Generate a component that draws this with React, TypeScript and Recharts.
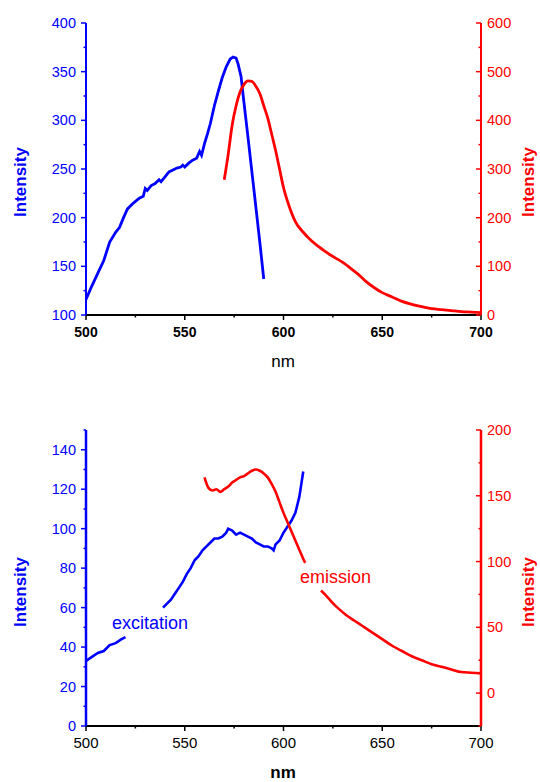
import React from 'react';
import { LineChart, Line, XAxis, YAxis } from 'recharts';

const BLUE = '#0000ff';
const RED = '#ff0000';
const FONT = '"Liberation Sans", Arial, Helvetica, sans-serif';

// upper panel: excitation (left axis) and emission (right axis)
const topExNm = [500, 503, 506, 509, 512, 515, 517, 519, 521, 524, 527, 529, 530, 531, 533, 535, 537, 538, 540, 542, 544, 546, 548, 549, 550, 552, 554, 556, 557.5, 558.5, 560, 561.5, 563, 565, 567, 569, 571, 573, 574.5, 576, 577, 578.5, 580, 582, 584, 586, 588, 590];
const topExVal = [116, 130, 143, 156, 175, 185, 190, 200, 209, 215, 220, 222, 230, 228, 233, 235, 239, 237, 242, 247, 249, 251, 252, 254, 252, 256, 259, 261, 268, 264, 276, 286, 297, 315, 330, 344, 355, 363, 365, 364, 358, 345, 318, 283, 247, 211, 175, 137];
const topEmNm = [570, 572, 574, 576, 578, 580, 582, 584, 586, 588, 590, 592, 594, 596, 598, 600, 603, 606, 610, 614, 618, 622, 626, 630, 634, 638, 642, 646, 650, 655, 660, 665, 670, 675, 680, 685, 690, 695, 700];
const topEmVal = [278, 330, 390, 430, 458, 474, 481, 480, 470, 455, 430, 405, 372, 338, 300, 262, 222, 192, 170, 153, 140, 128, 118, 108, 96, 83, 68, 56, 46, 37, 28, 22, 17, 13, 11, 9, 7, 6, 5];

// lower panel (null = gap behind the text labels)
const botExNm = [500, 503, 506, 509, 512, 515, 518, 520, 529, 539, 541, 543, 545, 547, 549, 551, 553, 555, 557, 559, 561, 563, 565, 567, 569, 571, 572, 574, 576, 578, 580, 582, 584, 586, 588, 590, 592, 594, 595, 596, 598, 600, 602, 604, 606, 608, 610];
const botExVal = [33, 35, 37, 38, 41, 42, 44, 45, null, 60, 62, 64, 67, 70, 73, 77, 80, 84, 86, 89, 91, 93, 95, 95, 96, 98, 100, 99, 97, 98, 97, 96, 95, 93, 92, 91, 91, 90, 89, 92, 94, 98, 101, 104, 108, 116, 129];
const botEmNm = [560, 562, 564, 566, 568, 570, 572, 574, 576, 578, 580, 582, 584, 586, 588, 590, 592, 594, 596, 598, 600, 602, 604, 606, 608, 610, 611, 615, 619, 621, 624, 628, 632, 636, 640, 645, 650, 655, 660, 665, 670, 675, 680, 685, 690, 695, 700];
const botEmVal = [164, 156, 154, 155, 153, 155, 157, 160, 162, 164, 165, 167, 169, 170, 169, 167, 164, 159, 153, 145, 137, 130, 123, 116, 109, 102, 99, null, 78, 75, 70, 64, 59, 55, 51, 46, 41, 36, 32, 28, 25, 22, 20, 18, 16, 15.5, 15];

// tick positions
const nmTicks = [500, 525, 550, 575, 600, 625, 650, 675, 700];
const topLeftTicks = [100, 125, 150, 175, 200, 225, 250, 275, 300, 325, 350, 375, 400];
const topRightTicks = [0, 50, 100, 150, 200, 250, 300, 350, 400, 450, 500, 550, 600];
const botLeftTicks = [0, 10, 20, 30, 40, 50, 60, 70, 80, 90, 100, 110, 120, 130, 140, 150];
const botRightTicks = [-25, 0, 25, 50, 75, 100, 125, 150, 175, 200];

const zip = (xs: number[], ys: (number | null)[]) => xs.map((nm, i) => ({ nm, v: ys[i] }));

type Side = 'left' | 'right' | 'bottom';

// draws its own tick mark so majors and minors can differ in length
function makeTick(
  side: Side,
  gap: number,
  color: string,
  isMajor: (v: number) => boolean,
  fontSize: number,
  bold: boolean,
  inward = false
) {
  return (props: any) => {
    const { x, y, payload } = props;
    const v = payload.value;
    const major = isMajor(v);
    const len = major ? 5 : 2.5;
    const dir = inward ? -1 : 1;
    const txt = { fill: color, fontSize, fontFamily: FONT, fontWeight: bold ? 'bold' : 'normal' };
    if (side === 'left') {
      const ax = x + gap;
      return (
        <g>
          <line x1={ax} x2={ax - dir * len} y1={y} y2={y} stroke={color} strokeWidth={1.5} />
          {major && <text x={x} y={y} dy="0.355em" textAnchor="end" {...txt}>{v}</text>}
        </g>
      );
    }
    if (side === 'right') {
      const ax = x - gap;
      return (
        <g>
          <line x1={ax} x2={ax + dir * len} y1={y} y2={y} stroke={color} strokeWidth={1.5} />
          {major && <text x={x} y={y} dy="0.355em" textAnchor="start" {...txt}>{v}</text>}
        </g>
      );
    }
    const ay = y - gap;
    return (
      <g>
        <line x1={x} x2={x} y1={ay} y2={ay + dir * len} stroke={color} strokeWidth={1.5} />
        {major && <text x={x} y={y} dy="0.71em" textAnchor="middle" {...txt}>{v}</text>}
      </g>
    );
  };
}

const every = (n: number) => (v: number) => v % n === 0;

export default function App() {
  return (
    <div style={{ position: 'absolute', left: 0, top: 0, width: 540, height: 782, background: '#fff' }}>
      <div style={{ position: 'absolute', left: 0, top: 0 }}>
        <LineChart width={540} height={380} margin={{ top: 23, right: 9, bottom: 35, left: 16 }}>
          <XAxis
            type="number"
            dataKey="nm"
            domain={[500, 700]}
            ticks={nmTicks}
            interval={0}
            height={30}
            tickSize={0}
            tickMargin={12}
            axisLine={{ stroke: '#000', strokeWidth: 2 }}
            tick={makeTick('bottom', 12, '#000', every(50), 14, true)}
          />
          <YAxis
            yAxisId="left"
            type="number"
            domain={[100, 400]}
            ticks={topLeftTicks}
            interval={0}
            width={70}
            tickSize={0}
            tickMargin={10}
            axisLine={{ stroke: BLUE, strokeWidth: 2 }}
            tick={makeTick('left', 10, BLUE, every(50), 14.5, false)}
          />
          <YAxis
            yAxisId="right"
            orientation="right"
            type="number"
            domain={[0, 600]}
            ticks={topRightTicks}
            interval={0}
            width={50}
            tickSize={0}
            tickMargin={6}
            axisLine={{ stroke: RED, strokeWidth: 2 }}
            tick={makeTick('right', 6, RED, every(100), 14.5, false, true)}
          />
          <Line
            yAxisId="left"
            data={zip(topExNm, topExVal)}
            dataKey="v"
            type="linear"
            stroke={BLUE}
            strokeWidth={2.8}
            dot={false}
            isAnimationActive={false}
          />
          <Line
            yAxisId="right"
            data={zip(topEmNm, topEmVal)}
            dataKey="v"
            type="monotone"
            stroke={RED}
            strokeWidth={2.8}
            dot={false}
            isAnimationActive={false}
          />
        </LineChart>
      </div>

      <div style={{ position: 'absolute', left: 0, top: 400 }}>
        <LineChart width={540} height={382} margin={{ top: 30, right: 9, bottom: 26, left: 16 }}>
          <XAxis
            type="number"
            dataKey="nm"
            domain={[500, 700]}
            ticks={nmTicks}
            interval={0}
            height={30}
            tickSize={0}
            tickMargin={11}
            axisLine={{ stroke: '#000', strokeWidth: 2 }}
            tick={makeTick('bottom', 11, '#000', every(50), 15, false)}
          />
          <YAxis
            yAxisId="left"
            type="number"
            domain={[0, 150]}
            ticks={botLeftTicks}
            interval={0}
            width={70}
            tickSize={0}
            tickMargin={10}
            axisLine={{ stroke: BLUE, strokeWidth: 2.5 }}
            tick={makeTick('left', 10, BLUE, every(20), 14.5, false)}
          />
          <YAxis
            yAxisId="right"
            orientation="right"
            type="number"
            domain={[-25, 200]}
            ticks={botRightTicks}
            interval={0}
            width={50}
            tickSize={0}
            tickMargin={6}
            axisLine={{ stroke: RED, strokeWidth: 2.5 }}
            tick={makeTick('right', 6, RED, every(50), 14.5, false, true)}
          />
          <Line
            yAxisId="left"
            data={zip(botExNm, botExVal)}
            dataKey="v"
            type="linear"
            stroke={BLUE}
            strokeWidth={2.6}
            dot={false}
            isAnimationActive={false}
          />
          <Line
            yAxisId="right"
            data={zip(botEmNm, botEmVal)}
            dataKey="v"
            type="monotone"
            stroke={RED}
            strokeWidth={2.6}
            dot={false}
            isAnimationActive={false}
          />
        </LineChart>
      </div>

      {/* axis titles and annotations */}
      <svg
        width={540}
        height={782}
        style={{ position: 'absolute', left: 0, top: 0, pointerEvents: 'none' }}
        fontFamily={FONT}
      >
        <text x={25.5} y={182} transform="rotate(-90 25.5 182)" textAnchor="middle" fontSize={17} fontWeight="bold" fill={BLUE}>Intensity</text>
        <text x={534} y={182} transform="rotate(-90 534 182)" textAnchor="middle" fontSize={17} fontWeight="bold" fill={RED}>Intensity</text>
        <text x={283} y={367} textAnchor="middle" fontSize={17} fill="#000">nm</text>

        <text x={25.5} y={592} transform="rotate(-90 25.5 592)" textAnchor="middle" fontSize={17} fontWeight="bold" fill={BLUE}>Intensity</text>
        <text x={534} y={592} transform="rotate(-90 534 592)" textAnchor="middle" fontSize={17} fontWeight="bold" fill={RED}>Intensity</text>
        <text x={283} y={778} textAnchor="middle" fontSize={17} fontWeight="bold" fill="#000">nm</text>

        <text x={112} y={629} fontSize={18} fill={BLUE}>excitation</text>
        <text x={300} y={583} fontSize={18} fill={RED}>emission</text>
      </svg>
    </div>
  );
}
